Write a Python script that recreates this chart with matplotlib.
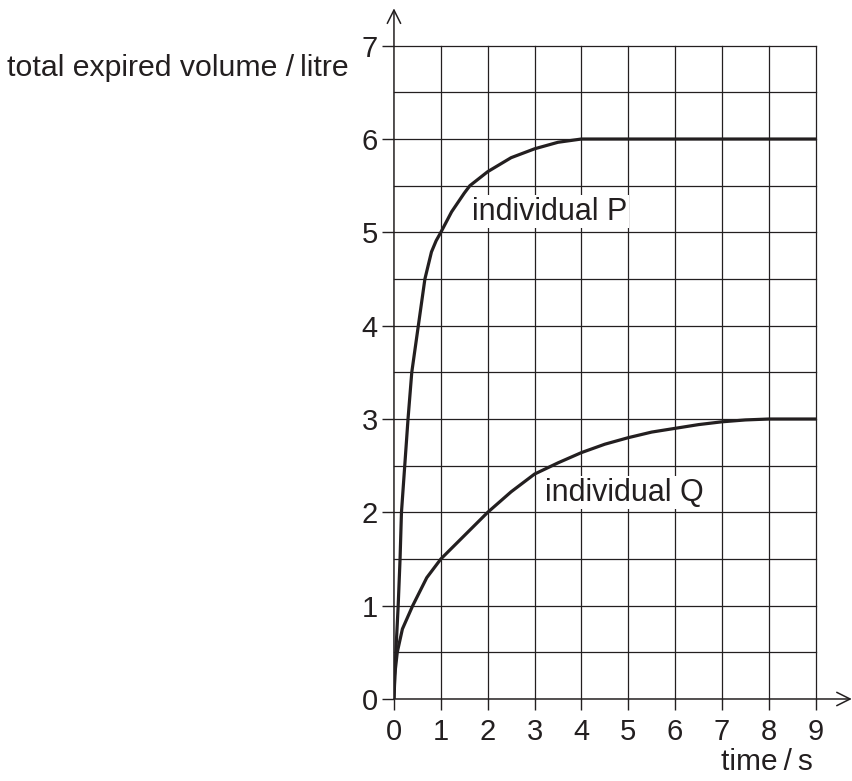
import numpy as np
import matplotlib
matplotlib.use("Agg")
import matplotlib.pyplot as plt

plt.rcParams['font.family'] = ['Liberation Sans', 'DejaVu Sans']

ink = '#231f20'

# individual P
t_p = [0, 0.02, 0.04, 0.09, 0.13, 0.16, 0.23, 0.30, 0.38, 0.52, 0.66, 0.80, 0.90, 1.0,
       1.23, 1.5, 1.62, 2.0, 2.5, 3.0, 3.5, 4.0, 9.0]
v_p = [0, 0.25, 0.5, 1.0, 1.5, 2.0, 2.5, 3.0, 3.5, 4.0, 4.5, 4.79, 4.91, 5.0,
       5.22, 5.42, 5.5, 5.65, 5.80, 5.895, 5.965, 6.0, 6.0]

# individual Q
t_q = [0, 0.015, 0.07, 0.18, 0.40, 0.70, 1.0, 1.5, 2.0, 2.5, 3.0, 3.5, 4.0,
       4.5, 5.0, 5.5, 6.0, 6.5, 7.0, 7.5, 8.0, 9.0]
v_q = [0, 0.25, 0.5, 0.75, 1.0, 1.30, 1.5, 1.75, 2.0, 2.22, 2.41, 2.53, 2.64,
       2.73, 2.80, 2.86, 2.90, 2.94, 2.97, 2.99, 3.0, 3.0]

x_ticks = list(range(0, 10))
y_ticks = list(range(0, 8))

fig = plt.figure(figsize=(8.52, 7.81), dpi=100)
ax = fig.add_axes([0.4624, 0.105, 0.4950, 0.8365])

ax.set_xlim(0, 9)
ax.set_ylim(0, 7)

# grid
for x in x_ticks[1:]:
    ax.axvline(x, color=ink, lw=0.9, zorder=1, clip_on=False)
for y in np.arange(0.5, 7.01, 0.5):
    ax.axhline(y, color=ink, lw=0.9, zorder=1, clip_on=False)

ax.plot(t_p, v_p, color=ink, lw=2.3, zorder=3, solid_joinstyle='round')
ax.plot(t_q, v_q, color=ink, lw=2.3, zorder=3, solid_joinstyle='round')

for s in ['top', 'right', 'left', 'bottom']:
    ax.spines[s].set_visible(False)

# axes with arrows
ax.annotate('', xy=(0, 7.4), xytext=(0, 0), xycoords='data',
            arrowprops=dict(arrowstyle='->', color=ink, lw=1.1,
                            mutation_scale=24, shrinkA=0, shrinkB=0),
            annotation_clip=False)
ax.annotate('', xy=(9.77, 0), xytext=(0, 0), xycoords='data',
            arrowprops=dict(arrowstyle='->', color=ink, lw=1.1,
                            mutation_scale=24, shrinkA=0, shrinkB=0),
            annotation_clip=False)

ax.set_xticks(x_ticks)
ax.set_yticks(y_ticks)
ax.tick_params(axis='x', direction='out', length=8, width=1, color=ink,
               labelsize=21, labelcolor=ink, pad=6)
ax.tick_params(axis='y', direction='out', length=8.5, width=1, color=ink,
               labelsize=21, labelcolor=ink, pad=3)

ax.text(1.66, 5.22, 'individual P', fontsize=22, color=ink, va='center', ha='left',
        zorder=2, bbox=dict(facecolor='white', edgecolor='none', pad=1))
ax.text(3.22, 2.21, 'individual Q', fontsize=22, color=ink, va='center', ha='left',
        zorder=2, bbox=dict(facecolor='white', edgecolor='none', pad=1))

fig.text(7 / 852, 1 - 75.7 / 781, 'total expired volume /\u2009litre', fontsize=21.8,
         color=ink, ha='left', va='baseline')
fig.text(813 / 852, 1 - 770 / 781, 'time\u2009/\u2009s', fontsize=21.5,
         color=ink, ha='right', va='baseline')

fig.savefig('out.png', dpi=100)
